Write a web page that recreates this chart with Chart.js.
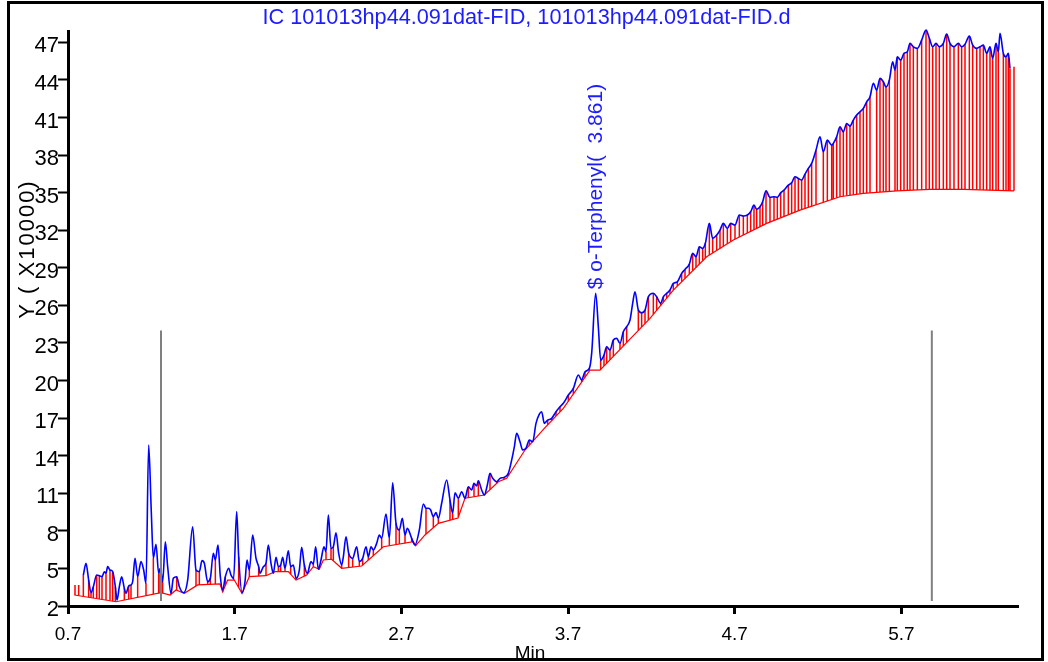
<!DOCTYPE html>
<html>
<head>
<meta charset="utf-8">
<script src="https://cdn.jsdelivr.net/npm/chart.js@4.4.1/dist/chart.umd.min.js"></script>
<style>
  html, body { margin: 0; padding: 0; background: #fff; }
  #frame { position: absolute; left: 7px; top: 1px; width: 1037px; height: 660px; box-sizing: border-box; border: 3px solid #000; overflow: hidden; background:#fff; }
  #c { position: absolute; left: -10px; top: -4px; }
</style>
</head>
<body>
<div id="frame"><canvas id="c" width="1048" height="662"></canvas></div>
<script>
const titleText = 'IC 101013hp44.091dat-FID, 101013hp44.091dat-FID.d';
const xTitle = 'Min';
const yTitle = 'Y ( X10000)';
const xTicks = [0.7, 1.7, 2.7, 3.7, 4.7, 5.7];
const yTicks = [2, 5, 8, 11, 14, 17, 20, 23, 26, 29, 32, 35, 38, 41, 44, 47];

// signal (blue)
const sigT = [0.792,0.808,0.824,0.838,0.852,0.872,0.888,0.904,0.918,0.928,0.938,0.952,0.968,0.984,0.994,1.008,1.022,1.038,1.048,1.064,1.078,1.088,1.102,1.118,1.138,1.154,1.168,1.184,1.200,1.212,1.228,1.244,1.254,1.268,1.284,1.298,1.318,1.332,1.352,1.368,1.394,1.418,1.448,1.468,1.488,1.504,1.518,1.538,1.554,1.572,1.584,1.600,1.614,1.628,1.644,1.664,1.678,1.694,1.712,1.724,1.744,1.762,1.774,1.788,1.808,1.828,1.844,
1.852,1.872,1.888,1.902,1.918,1.932,1.948,1.962,1.976,1.988,2.002,2.022,2.036,2.052,2.068,2.088,2.102,2.118,2.136,2.158,2.172,2.186,2.202,2.218,2.236,2.248,2.262,2.278,2.292,2.308,2.324,2.342,2.352,2.368,2.384,2.408,2.432,2.448,2.468,2.488,2.502,2.518,2.532,2.552,2.568,2.582,2.608,2.628,2.648,2.668,2.688,2.706,2.722,2.736,2.762,2.782,2.808,2.832,2.848,2.862,2.876,2.892,2.908,2.922,2.942,2.972,2.992,3.008,3.022,3.042,
3.062,3.082,3.102,3.122,3.136,3.152,3.162,3.182,3.198,3.216,3.232,3.248,3.272,3.292,3.316,3.342,3.362,3.378,3.392,3.412,3.428,3.448,3.468,3.488,3.508,3.528,3.542,3.558,3.578,3.602,3.628,3.652,3.672,3.702,3.732,3.762,3.782,3.802,3.828,3.842,3.866,3.882,3.896,3.916,3.932,3.952,3.972,3.992,4.012,4.032,4.052,4.072,4.088,4.102,4.122,4.142,4.162,4.182,
4.212,4.232,4.256,4.272,4.292,4.312,4.332,4.356,4.382,4.402,4.428,4.448,4.468,4.488,4.508,4.524,4.548,4.568,4.592,4.612,4.632,4.656,4.676,4.702,4.728,4.752,4.776,4.796,4.816,4.832,4.852,4.868,4.888,4.912,4.936,4.956,4.976,4.996,5.022,5.042,5.062,5.082,5.102,5.122,5.142,5.162,5.188,5.212,5.232,5.256,5.282,
5.292,5.312,5.332,5.352,5.372,5.392,5.412,5.432,5.452,5.472,5.492,5.512,5.532,5.552,5.572,5.592,5.608,5.628,5.648,5.662,5.676,5.696,5.716,5.736,5.752,5.772,5.796,5.822,5.848,5.868,5.888,5.908,5.928,5.952,5.972,5.992,6.016,6.042,6.062,6.082,6.108,6.128,6.152,6.172,6.192,6.212,6.232,6.248,6.268,6.282,6.292,6.312,6.328,6.342,6.352];
const sigY = [4.47,5.41,4.07,3.06,3.54,4.47,4.42,4.34,4.74,4.61,5.14,4.87,4.74,3.54,2.48,3.54,4.34,3.41,3.01,3.60,3.68,3.94,5.81,4.34,5.54,4.87,3.81,14.85,9.42,5.83,6.92,4.61,5.01,3.94,7.13,5.14,3.01,4.21,4.34,3.54,3.06,4.07,8.33,4.87,4.74,5.62,5.41,3.94,4.21,6.21,5.67,6.87,4.34,3.28,4.34,5.01,4.47,4.21,9.53,5.93,3.06,3.94,5.67,4.87,7.67,5.81,5.14,
4.61,5.14,5.41,6.87,5.41,4.61,5.89,5.14,5.27,5.89,5.01,6.41,5.14,5.27,4.21,4.87,6.68,5.27,4.61,5.54,5.35,6.73,4.93,5.67,6.73,6.33,9.26,6.60,6.73,7.85,6.21,5.27,5.93,7.53,6.21,5.81,6.73,5.54,5.81,6.73,5.93,6.73,6.47,7.00,7.67,7.40,9.34,7.40,11.84,8.60,8.07,9.00,7.67,8.20,7.40,6.87,8.07,10.14,9.80,9.80,9.66,9.13,9.45,9.00,10.20,12.06,10.46,9.40,11.04,10.60,
11.12,10.60,11.52,11.26,11.79,11.58,12.00,11.26,10.86,11.66,12.59,12.19,11.92,12.19,12.27,12.59,13.65,14.71,15.78,15.11,14.45,14.59,15.25,15.11,16.58,17.32,17.51,16.58,16.84,16.98,17.51,17.91,18.18,18.84,19.37,20.44,20.04,20.70,20.97,22.17,26.96,24.29,21.63,22.03,22.69,22.43,23.23,23.36,22.97,23.89,24.29,24.83,26.16,27.08,25.62,25.41,25.62,26.68,
26.96,26.68,26.16,26.68,26.96,27.22,27.75,27.88,28.55,28.87,29.29,30.15,29.88,30.68,30.55,30.95,32.54,31.35,31.61,32.01,32.54,32.14,32.54,32.41,33.21,33.13,33.21,33.47,34.00,33.66,33.87,34.27,35.14,34.62,34.67,34.62,34.98,35.20,35.60,35.78,36.26,36.13,36.00,36.48,36.93,37.33,38.39,39.45,38.26,39.19,38.79,
38.93,39.45,40.25,39.85,40.52,40.31,40.79,41.19,41.45,41.72,42.25,42.65,43.72,43.18,44.12,43.85,43.44,43.98,45.44,44.78,45.84,45.58,46.11,46.24,46.91,46.64,46.51,47.17,47.97,47.31,46.64,46.91,46.64,46.91,47.65,46.91,46.64,46.91,46.64,46.85,47.49,46.77,46.51,46.64,46.77,46.11,46.64,45.71,46.91,46.24,47.71,46.11,45.84,46.11,44.91];

// baseline (red)
const baseT = [0.738,0.988,1.258,1.312,1.348,1.398,1.478,1.612,1.628,1.658,1.698,1.744,1.788,1.888,1.942,2.022,2.068,2.132,2.172,2.208,2.232,2.282,2.342,2.462,2.592,2.772,2.786,2.842,2.922,3.040,3.082,3.198,3.282,3.332,3.442,3.558,3.672,3.832,3.892,4.192,4.332,4.532,4.692,4.892,5.092,5.332,5.472,5.672,5.872,6.072,6.376];
const baseY = [2.88,2.34,3.06,2.88,3.28,3.01,3.68,3.76,3.14,4.07,4.07,3.01,4.34,4.42,4.74,4.74,4.07,4.47,5.14,4.93,5.67,5.73,5.01,5.19,6.73,7.13,6.81,7.67,8.60,9.02,10.60,10.86,11.92,12.19,14.45,16.18,17.78,20.83,20.83,24.96,27.22,29.88,31.21,32.54,33.60,34.67,34.94,35.14,35.26,35.26,35.14];

// drop lines (red) from baseline to signal at these retention times
const dropT = [0.792,0.824,0.838,0.852,0.872,0.888,0.904,0.928,0.952,0.968,0.984,1.038,1.064,1.078,1.118,1.168,1.212,1.244,1.254,1.268,1.318,1.352,1.394,1.468,1.488,1.538,1.554,1.584,1.628,1.644,1.694,1.724,1.744,1.788,1.844,1.888,1.932,1.962,1.976,2.002,2.036,2.068,2.118,2.136,2.172,2.202,2.248,2.278,2.292,2.342,2.384,2.408,2.448,2.468,2.502,2.532,2.582,2.628,2.668,2.688,2.722,2.762,2.782,2.848,2.892,2.922,2.992,3.008,3.042,3.102,3.136,3.162,3.232,3.272,3.316,3.342,3.448,3.468,3.488,3.578,3.602,3.628,3.652,3.702,3.732,3.782,3.802,3.828,3.896,3.916,3.932,3.952,3.972,4.012,4.032,4.052,4.122,4.142,4.162,4.182,
4.212,4.232,4.256,4.272,4.292,4.312,4.332,4.356,4.382,4.402,4.428,4.448,4.468,4.488,4.508,4.524,4.548,4.568,4.592,4.612,4.632,4.656,4.676,4.702,4.728,4.752,4.776,4.796,4.816,4.832,4.852,4.868,4.888,4.912,4.936,4.956,4.976,4.996,5.022,5.042,5.062,5.082,5.102,5.122,5.142,5.162,5.188,5.232,5.256,5.282,5.292,5.312,5.332,5.352,5.372,5.392,5.412,5.432,5.452,5.472,5.492,5.512,5.552,5.572,5.592,5.608,5.628,5.662,5.676,5.696,5.716,5.736,5.752,5.772,5.796,5.822,5.848,5.868,5.888,5.908,5.928,5.952,5.972,5.992,6.016,6.042,6.062,6.082,6.108,6.128,6.152,6.172,6.192,6.212,6.232,6.248,6.268,6.282,6.312,6.328,6.342,6.352];
// isolated red stubs (outside the blue trace)
const stubT = [0.742, 0.764, 6.376];
const stubTop = [3.68, 3.68, 45.04];

// gray integration window markers
const markerT = [1.258, 5.883];
const markerLo = [2.4, 2.4];
const markerHi = [24.0, 24.0];

// peak annotation
const annoT = 3.866;
const annoY = 26.96;
const annoText = '$ o-Terphenyl(  3.861)';

if (sigT.length !== sigY.length) throw new Error('sig len ' + sigT.length + ' vs ' + sigY.length);
if (baseT.length !== baseY.length) throw new Error('base len');

function baseAt(t) {
  for (let i = 0; i < baseT.length - 1; i++) {
    if (t >= baseT[i] && t <= baseT[i + 1]) {
      const f = (t - baseT[i]) / (baseT[i + 1] - baseT[i]);
      return baseY[i] + f * (baseY[i + 1] - baseY[i]);
    }
  }
  return t < baseT[0] ? baseY[0] : baseY[baseY.length - 1];
}

const sigData = sigT.map((t, i) => ({ x: t, y: sigY[i] }));
const baseData = baseT.map((t, i) => ({ x: t, y: baseY[i] }));
const dropData = [];
dropT.forEach(t => {
  const i = sigT.indexOf(t);
  if (i < 0) throw new Error('missing drop ' + t);
  dropData.push({ x: t, y: baseAt(t) }, { x: t, y: sigY[i] }, { x: t, y: null });
});
stubT.forEach((t, i) => {
  dropData.push({ x: t, y: baseAt(t) }, { x: t, y: stubTop[i] }, { x: t, y: null });
});
dropData.sort((a, b) => a.x - b.x);
const markerData = [];
markerT.forEach((t, i) => {
  markerData.push({ x: t, y: markerLo[i] }, { x: t, y: markerHi[i] }, { x: t, y: null });
});

const FONT = "'Liberation Sans', Arial, sans-serif";
const BLUE = '#1c1cff';

const extraText = {
  id: 'extraText',
  afterDatasetsDraw(chart) {
    const { ctx, scales } = chart;
    // title
    ctx.save();
    ctx.fillStyle = BLUE;
    ctx.font = '21.7px ' + FONT;
    ctx.textAlign = 'center';
    ctx.textBaseline = 'middle';
    ctx.fillText(titleText, 526.5, 18);
    ctx.restore();
    // annotation
    ctx.save();
    const px = scales.x.getPixelForValue(annoT);
    const py = scales.y.getPixelForValue(annoY) - 4;
    ctx.translate(px, py);
    ctx.rotate(-Math.PI / 2);
    ctx.fillStyle = BLUE;
    ctx.font = '21px ' + FONT;
    ctx.textAlign = 'left';
    ctx.textBaseline = 'middle';
    ctx.fillText(annoText, 0, 1);
    ctx.restore();
    // y title
    ctx.save();
    ctx.translate(28, 249);
    ctx.rotate(-Math.PI / 2);
    ctx.fillStyle = '#000';
    ctx.font = '22px ' + FONT;
    try { ctx.letterSpacing = '2px'; } catch (e) {}
    ctx.textAlign = 'center';
    ctx.textBaseline = 'middle';
    ctx.fillText(yTitle, 0, 0);
    ctx.restore();
    // x title
    ctx.save();
    ctx.fillStyle = '#000';
    ctx.font = '19px ' + FONT;
    ctx.textAlign = 'center';
    ctx.textBaseline = 'middle';
    ctx.fillText(xTitle, 530, 654);
    ctx.restore();
  }
};

new Chart(document.getElementById('c'), {
  type: 'line',
  data: {
    datasets: [
      { label: 'markers', data: markerData, borderColor: '#808080', borderWidth: 2, pointRadius: 0, spanGaps: false, order: 0 },
      { label: 'signal', data: sigData, borderColor: '#0000ff', borderWidth: 1.6, pointRadius: 0, cubicInterpolationMode: 'monotone', clip: false, order: 1 },
      { label: 'baseline', data: baseData, borderColor: '#ff0000', borderWidth: 1.2, pointRadius: 0, tension: 0, order: 2 },
      { label: 'drops', data: dropData, borderColor: '#ff0000', borderWidth: 1.5, pointRadius: 0, spanGaps: false, tension: 0, order: 3 }
    ]
  },
  options: {
    responsive: false,
    animation: false,
    events: [],
    layout: { padding: { top: 31, right: 30, left: 0, bottom: 0 } },
    plugins: {
      legend: { display: false },
      tooltip: { enabled: false },
      title: { display: false }
    },
    scales: {
      x: {
        type: 'linear',
        min: 0.7,
        max: 6.4,
        afterBuildTicks: s => { s.ticks = xTicks.map(v => ({ value: v })); },
        afterFit: s => { s.height = 56; },
        ticks: {
          color: '#000',
          font: { family: FONT, size: 19 },
          padding: 9,
          maxRotation: 0,
          autoSkip: false,
          callback: v => v.toFixed(1)
        },
        grid: { drawOnChartArea: false, drawTicks: true, tickLength: 8, tickWidth: 3, tickColor: '#000' },
        border: { display: true, color: '#000', width: 3 },
        title: { display: false }
      },
      y: {
        type: 'linear',
        min: 2,
        max: 47.9,
        afterBuildTicks: s => { s.ticks = yTicks.map(v => ({ value: v })); },
        afterFit: s => { s.width = 68; },
        ticks: {
          color: '#000',
          font: { family: "'Liberation Sans Narrow', 'Liberation Sans', Arial, sans-serif", size: 22 },
          padding: -1,
          labelOffset: 4,
          autoSkip: false,
          callback: v => String(v)
        },
        grid: { drawOnChartArea: false, drawTicks: true, tickLength: 10, tickWidth: 2, tickColor: '#000' },
        border: { display: true, color: '#000', width: 3 }
      }
    }
  },
  plugins: [extraText]
});
</script>
</body>
</html>
